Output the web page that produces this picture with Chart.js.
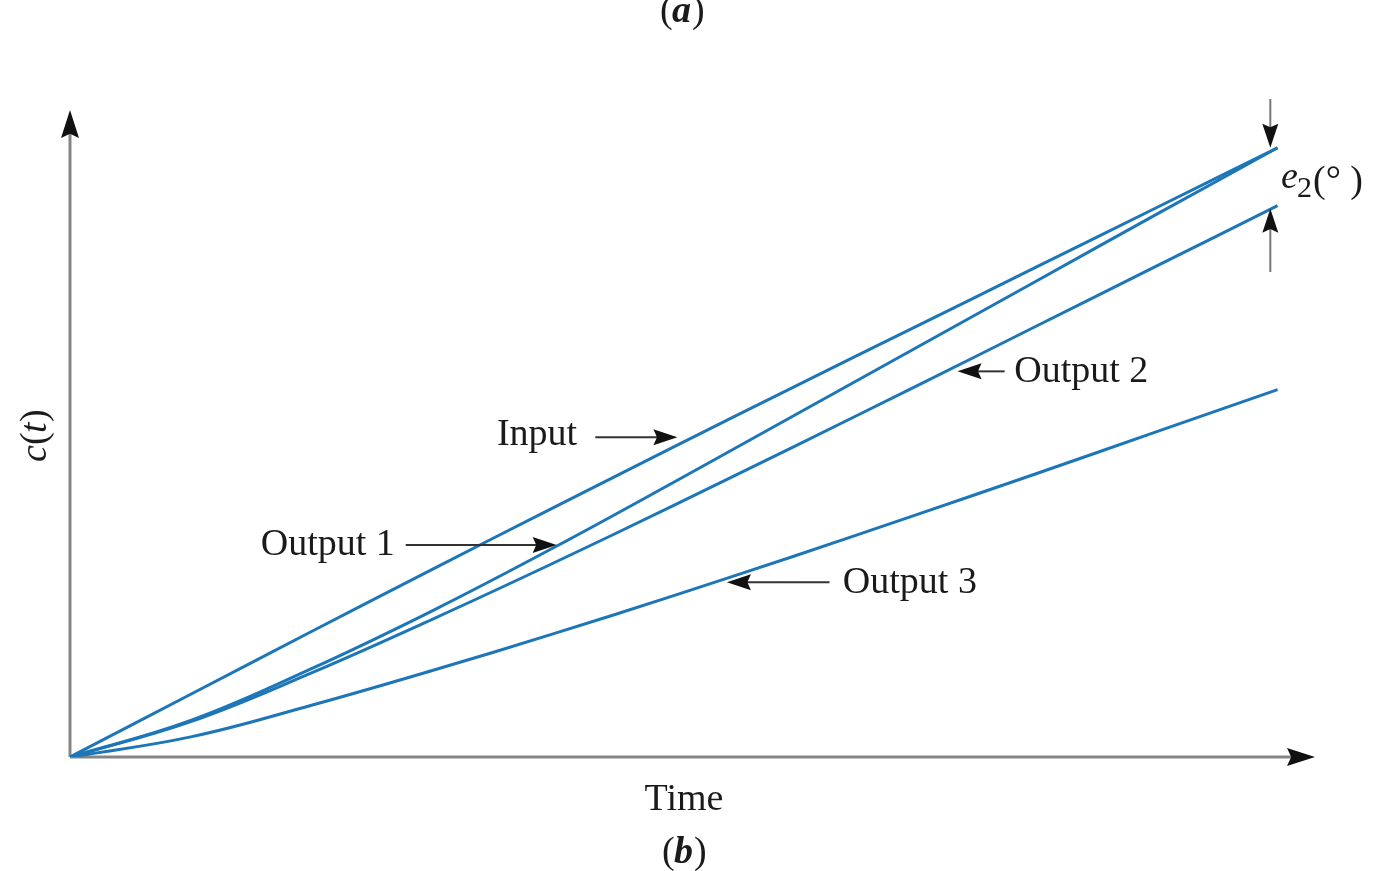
<!DOCTYPE html>
<html>
<head>
<meta charset="utf-8">
<script src="https://cdn.jsdelivr.net/npm/chart.js@4"></script>
<style>
  html, body { margin: 0; padding: 0; background: #fff; }
  canvas { display: block; }
</style>
</head>
<body>
<canvas id="rampChart" width="1376" height="871"></canvas>
<script>
/* ---------------------------
   DATA
---------------------------*/
const times = [0, 1, 2, 3, 4, 5, 6, 7, 8, 9, 10];
const inputValues   = [0, 1.03, 2.06, 3.08, 4.09, 5.09, 6.08, 7.06, 8.04, 9.02, 10.0];
const output1Values = [0, 0.6, 1.45, 2.4, 3.43, 4.51, 5.61, 6.71, 7.81, 8.91, 10.0];
const output2Values = [0, 0.58, 1.38, 2.26, 3.18, 4.13, 5.1, 6.08, 7.07, 8.06, 9.05];
const output3Values = [0, 0.33, 0.85, 1.42, 2.02, 2.65, 3.3, 3.97, 4.65, 5.34, 6.03];

const LINE_BLUE = '#1c76b8';
const SERIF = '"Liberation Serif", "DejaVu Serif", serif';

function toPoints(values) {
    return times.map((t, i) => ({ x: t, y: values[i] }));
}

function series(label, values) {
    return {
        label: label,
        data: toPoints(values),
        borderColor: LINE_BLUE,
        borderWidth: 3,
        pointRadius: 0,
        tension: 0.4,
        fill: false
    };
}

/* ---------------------------
   DRAW HELPERS
---------------------------*/
function arrowHead(ctx, x, y, angle, len, half) {
    ctx.save();
    ctx.translate(x, y);
    ctx.rotate(angle);
    ctx.beginPath();
    ctx.moveTo(0, 0);
    ctx.lineTo(-len, -half);
    ctx.lineTo(-len * 0.85, 0);
    ctx.lineTo(-len, half);
    ctx.closePath();
    ctx.fillStyle = '#111';
    ctx.fill();
    ctx.restore();
}

// arrow from (x1,y1) to tip (x2,y2)
function arrow(ctx, x1, y1, x2, y2, color) {
    const ang = Math.atan2(y2 - y1, x2 - x1);
    ctx.beginPath();
    ctx.moveTo(x1, y1);
    ctx.lineTo(x2 - Math.cos(ang) * 18, y2 - Math.sin(ang) * 18);
    ctx.strokeStyle = color || '#333';
    ctx.lineWidth = 2;
    ctx.stroke();
    arrowHead(ctx, x2, y2, ang, 24, 8);
}

/* ---------------------------
   AXES + LABELS PLUGIN
---------------------------*/
const figurePlugin = {
    id: 'figure',
    beforeDatasetsDraw(chart) {
        const { ctx, scales: { x, y } } = chart;
        const x0 = x.getPixelForValue(0);
        const y0 = y.getPixelForValue(0);
        const xEnd = x.getPixelForValue(x.max);
        const yEnd = y.getPixelForValue(y.max);

        ctx.save();
        ctx.strokeStyle = '#858585';
        ctx.lineWidth = 3;
        ctx.beginPath();
        ctx.moveTo(x0, y0);
        ctx.lineTo(xEnd - 20, y0);
        ctx.moveTo(x0, y0);
        ctx.lineTo(x0, yEnd + 20);
        ctx.stroke();
        arrowHead(ctx, xEnd, y0, 0, 28, 9);
        arrowHead(ctx, x0, yEnd, -Math.PI / 2, 28, 9);
        ctx.restore();
    },
    afterDraw(chart) {
        const { ctx, scales: { x, y } } = chart;
        const px = v => x.getPixelForValue(v);
        const py = v => y.getPixelForValue(v);

        ctx.save();
        ctx.fillStyle = '#1a1a1a';
        ctx.textBaseline = 'middle';
        ctx.font = '38px ' + SERIF;

        // Input
        ctx.textAlign = 'right';
        ctx.fillText('Input', px(4.2), py(5.28));
        arrow(ctx, px(4.35), py(5.25), px(5.03), py(5.25));

        // Output 1
        ctx.fillText('Output 1', px(2.69), py(3.48));
        arrow(ctx, px(2.78), py(3.48), px(4.03), py(3.48));

        // Output 2
        ctx.textAlign = 'left';
        ctx.fillText('Output 2', px(7.82), py(6.32));
        arrow(ctx, px(7.74), py(6.33), px(7.35), py(6.33));

        // Output 3
        ctx.fillText('Output 3', px(6.4), py(2.86));
        arrow(ctx, px(6.29), py(2.87), px(5.44), py(2.87));

        // steady-state error markers
        const ex = px(9.94);
        arrow(ctx, ex, py(10.8), ex, py(10.0), '#777');
        arrow(ctx, ex, py(7.96), ex, py(9.0), '#777');

        ctx.textBaseline = 'alphabetic';
        ctx.font = 'italic 38px ' + SERIF;
        ctx.fillText('e', 1281, 188);
        ctx.font = '30px ' + SERIF;
        ctx.fillText('2', 1297, 197);
        ctx.font = '38px ' + SERIF;
        ctx.fillText('(\u00B0 )', 1313, 192);

        // axis titles
        ctx.textAlign = 'center';
        ctx.textBaseline = 'middle';
        ctx.fillText('Time', 684, py(-0.71));

        const bx = 684, by = 853;
        ctx.textAlign = 'left';
        ctx.fillText('(', bx - 22, by);
        ctx.font = 'bold italic 38px ' + SERIF;
        ctx.fillText('b', bx - 10, by);
        ctx.font = '38px ' + SERIF;
        ctx.fillText(')', bx + 10, by);

        // clipped caption of the previous panel
        ctx.textBaseline = 'alphabetic';
        ctx.fillText('(', 660, 22);
        ctx.font = 'bold italic 38px ' + SERIF;
        ctx.fillText('a', 672, 22);
        ctx.font = '38px ' + SERIF;
        ctx.fillText(')', 692, 22);

        // c(t)
        ctx.translate(36, 436);
        ctx.rotate(-Math.PI / 2);
        ctx.textAlign = 'left';
        ctx.textBaseline = 'middle';
        ctx.font = 'italic 38px ' + SERIF;
        ctx.fillText('c', -26, 0);
        ctx.font = '38px ' + SERIF;
        ctx.fillText('(', -9, 0);
        ctx.font = 'italic 38px ' + SERIF;
        ctx.fillText('t', 3, 0);
        ctx.font = '38px ' + SERIF;
        ctx.fillText(')', 14, 0);
        ctx.restore();
    }
};

/* ---------------------------
   INITIALIZE CHART
---------------------------*/
function initializeChart() {
    const ctx = document.getElementById('rampChart');
    if (!ctx) return;

    return new Chart(ctx, {
        type: 'line',
        data: {
            datasets: [
                series('Input', inputValues),
                series('Output 1', output1Values),
                series('Output 2', output2Values),
                series('Output 3', output3Values)
            ]
        },
        options: {
            responsive: false,
            animation: false,
            layout: {
                padding: { left: 70, right: 61, top: 110, bottom: 114 }
            },
            plugins: {
                legend: { display: false },
                tooltip: { enabled: false }
            },
            scales: {
                x: { type: 'linear', min: 0, max: 10.31, display: false },
                y: { type: 'linear', min: 0, max: 10.62, display: false }
            }
        },
        plugins: [figurePlugin]
    });
}

initializeChart();
</script>
</body>
</html>
